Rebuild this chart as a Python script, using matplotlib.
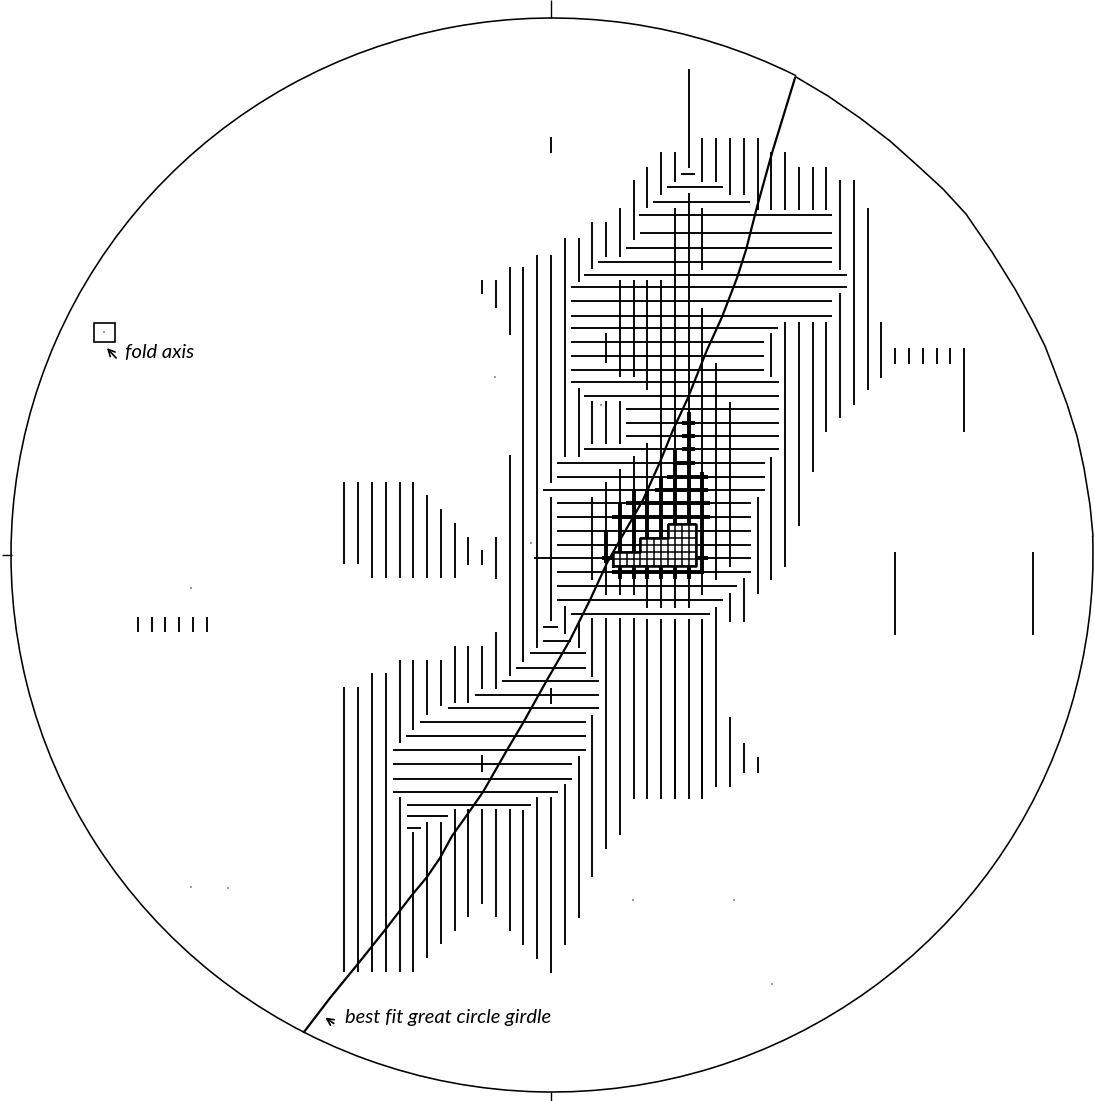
import matplotlib
matplotlib.use("Agg")
import matplotlib.pyplot as plt
from matplotlib.patches import Arc, Rectangle

# contour net: columns are grid numbers left/right of the net centre,
# y values and horizontal ends are in scan pixels
col_origin = 551
col_step = 13.77

vert_col = [-30, -29, -28, -27, -26, -25,
            -15, -15, -14, -14, -13, -13, -12, -12,
            -11, -11, -11, -10, -10, -10, -9, -9, -9, -8, -8, -8,
            -7, -7, -7, -6, -6, -6,
            -5, -5, -5, -5, -5, -4, -4, -4, -4,
            -3, -3, -3, -2, -2, -1, -1, 0, 0, 0, 0, 0,
            1, 1, 1, 2, 2, 2, 2, 3, 3, 3, 3, 3,
            4, 4, 4, 4, 4, 5, 5, 5, 5, 5, 6, 6, 6, 6,
            7, 7, 7, 7, 8, 8, 8, 9, 9, 9, 9, 10, 10, 10,
            11, 11, 11, 11, 11, 12, 12, 12, 13, 13, 13, 13,
            14, 14, 14, 15, 15, 15, 16, 16, 16, 17, 17, 18, 18, 19, 19, 20, 20,
            21, 21, 22, 23, 24, 25, 26, 27, 28, 29, 30, 25, 35]
vert_top = [617, 617, 617, 617, 617, 617,
            482, 687, 482, 687, 482, 673, 482, 673,
            482, 660, 797, 482, 660, 832, 495, 660, 822, 509, 660, 822,
            523, 646, 809, 537, 646, 809,
            550, 280, 646, 755, 809, 280, 537, 632, 809,
            267, 455, 809, 267, 810, 255, 797, 137, 255, 497, 688, 797,
            238, 606, 784, 238, 388, 622, 756, 222, 401, 497, 618, 715,
            222, 333, 401, 482, 618, 208, 280, 401, 469, 618, 180, 280, 456, 618,
            167, 280, 443, 619, 152, 280, 619, 152, 208, 619, 619, 69, 193, 619,
            138, 208, 308, 619, 619, 138, 363, 607, 138, 402, 593, 717,
            138, 578, 743, 138, 497, 757, 152, 333, 457, 152, 322, 167, 322, 167, 322, 167, 322,
            180, 293, 180, 208, 322, 348, 348, 348, 348, 348, 348, 552, 552]
vert_bottom = [632, 632, 632, 632, 632, 632,
               564, 972, 564, 972, 578, 972, 578, 972,
               578, 743, 972, 578, 730, 972, 578, 715, 958, 578, 706, 944,
               578, 703, 931, 565, 703, 917,
               565, 294, 689, 772, 904, 308, 579, 689, 917,
               335, 676, 931, 662, 945, 648, 959, 153, 483, 621, 704, 973,
               457, 634, 945, 282, 457, 648, 918, 269, 444, 580, 677, 877,
               257, 363, 444, 595, 849, 257, 377, 444, 595, 835, 240, 377, 595, 799,
               208, 390, 608, 799, 195, 608, 799, 182, 608, 799, 799, 168, 608, 799,
               182, 270, 595, 799, 799, 182, 580, 787, 195, 567, 622, 787,
               195, 622, 773, 210, 594, 773, 210, 377, 580, 210, 567, 210, 526, 210, 472, 210, 432,
               270, 418, 405, 390, 378, 364, 364, 364, 364, 364, 432, 635, 635]

horiz_y = [174, 187, 202, 215, 233, 248, 262, 275, 287, 301, 316, 328, 342, 356, 370, 382,
           396, 409, 423, 436, 449, 463, 477, 490, 503, 517, 531, 545, 558, 572, 586, 600, 614,
           627, 641, 653, 668, 681, 695, 708, 722, 736, 750, 764, 779, 792, 805, 816, 828]
horiz_left = [681, 667, 653, 639, 640, 626, 598, 584, 571, 571, 571, 571, 571, 571, 571, 571,
              584, 626, 626, 626, 584, 557, 557, 543, 557, 557, 557, 557, 534, 557, 557, 557, 571,
              543, 543, 530, 516, 502, 475, 448, 420, 406, 393, 393, 393, 393, 407, 407, 407]
horiz_right = [695, 723, 750, 832, 832, 832, 832, 847, 847, 832, 832, 778, 764, 764, 764, 779,
               779, 779, 779, 779, 779, 765, 765, 765, 751, 751, 751, 751, 751, 751, 737, 723, 710,
               558, 571, 586, 586, 599, 599, 599, 586, 586, 586, 572, 572, 558, 531, 448, 421]

# denser contour, same grid drawn heavier
bold_col = [4, 5, 6, 7, 8, 9, 10, 11]
bold_top = [530, 503, 491, 489, 477, 450, 412, 472]
bold_bottom = [563, 579, 579, 579, 579, 579, 579, 572]
bold_y = [423, 436, 449, 463, 477, 490, 503, 517, 558, 572]
bold_left = [682, 682, 682, 674, 667, 655, 626, 612, 602, 612]
bold_right = [695, 695, 695, 695, 708, 708, 710, 710, 708, 704]

# densest contour, half grid spacing
fine_x = [613, 620, 627, 634, 640, 647, 654, 661, 668, 675, 682, 689, 696]
fine_top = [552, 552, 552, 552, 538, 538, 538, 538, 524, 524, 524, 524, 524]
fine_y = [524, 531, 538, 545, 552, 559, 566]
fine_left = [668, 668, 640, 640, 613, 613, 613]
box_x = [613, 613, 640, 640, 668, 668, 696, 696, 613]
box_y = [566, 552, 552, 538, 538, 524, 524, 566, 566]

girdle_x = [795, 772, 757, 746, 737, 722, 707, 687, 673, 660, 643, 620, 607, 590, 570,
            547, 523, 507, 483, 467, 452, 440, 427, 412, 385, 357, 330, 304]
girdle_y = [78, 153, 207, 250, 278, 317, 350, 400, 430, 462, 500, 540, 563, 600, 640,
            680, 723, 750, 792, 815, 836, 858, 877, 895, 930, 965, 998, 1032]

# the scanned rim runs flat in the upper right
rim_x = [796, 828, 860, 890, 918, 943, 966, 992, 1015, 1032, 1045, 1055, 1067, 1077, 1084, 1090, 1093]
rim_y = [77, 96, 118, 141, 166, 189, 214, 252, 289, 320, 346, 372, 404, 436, 468, 505, 536]

speck_x = [495, 531, 601, 633, 734, 772, 191, 191, 228, 104]
speck_y = [377, 543, 405, 900, 900, 984, 588, 887, 888, 332]

fig = plt.figure(figsize=(10.94, 11.01), dpi=100)
ax = fig.add_axes([0, 0, 1, 1])
ax.set_xlim(0, 1094)
ax.set_ylim(1101, 0)
ax.axis("off")

ax.add_patch(Arc((552, 555), 1082, 1074, theta1=-2, theta2=297, ec="black", lw=1.15))
ax.plot(rim_x, rim_y, color="black", lw=1.15)
ax.vlines([551, 551], [0, 1092], [18, 1101], color="black", lw=1)
ax.hlines(555, 2, 12, color="black", lw=1)

vx = [col_origin + c * col_step for c in vert_col]
ax.vlines(vx, vert_top, vert_bottom, color="black", lw=1.35)
ax.hlines(horiz_y, horiz_left, horiz_right, color="black", lw=1.35)

bx = [col_origin + c * col_step for c in bold_col]
ax.vlines(bx, bold_top, bold_bottom, color="black", lw=2.8)
ax.hlines(bold_y, bold_left, bold_right, color="black", lw=2.8)

# white behind the fine cells, then the half-spacing mesh
ax.fill(box_x, box_y, color="white", zorder=3)
ax.vlines(fine_x, fine_top, 566, color="black", lw=1.1, zorder=4)
ax.hlines(fine_y, fine_left, 696, color="black", lw=1.1, zorder=4)
ax.plot(box_x, box_y, color="black", lw=1.8, zorder=4)

ax.plot(girdle_x, girdle_y, color="black", lw=1.6, zorder=5)
ax.scatter(speck_x, speck_y, s=1.5, c="#555555", edgecolors="none")

ax.add_patch(Rectangle((94, 323), 21, 19, fill=False, ec="black", lw=1.2))
ax.annotate("", xy=(105, 346), xytext=(118, 360),
            arrowprops=dict(arrowstyle="->", color="black", lw=1.2, mutation_scale=12))
ax.text(125, 352, "fold axis", fontsize=14.5, family="Lato", style="italic", va="center")
ax.annotate("", xy=(323, 1016), xytext=(336, 1025),
            arrowprops=dict(arrowstyle="->", color="black", lw=1.2, mutation_scale=12))
ax.text(345, 1018, "best fit great circle girdle", fontsize=14.5, family="Lato", style="italic", va="center")

plt.savefig("out.png", dpi=100)
